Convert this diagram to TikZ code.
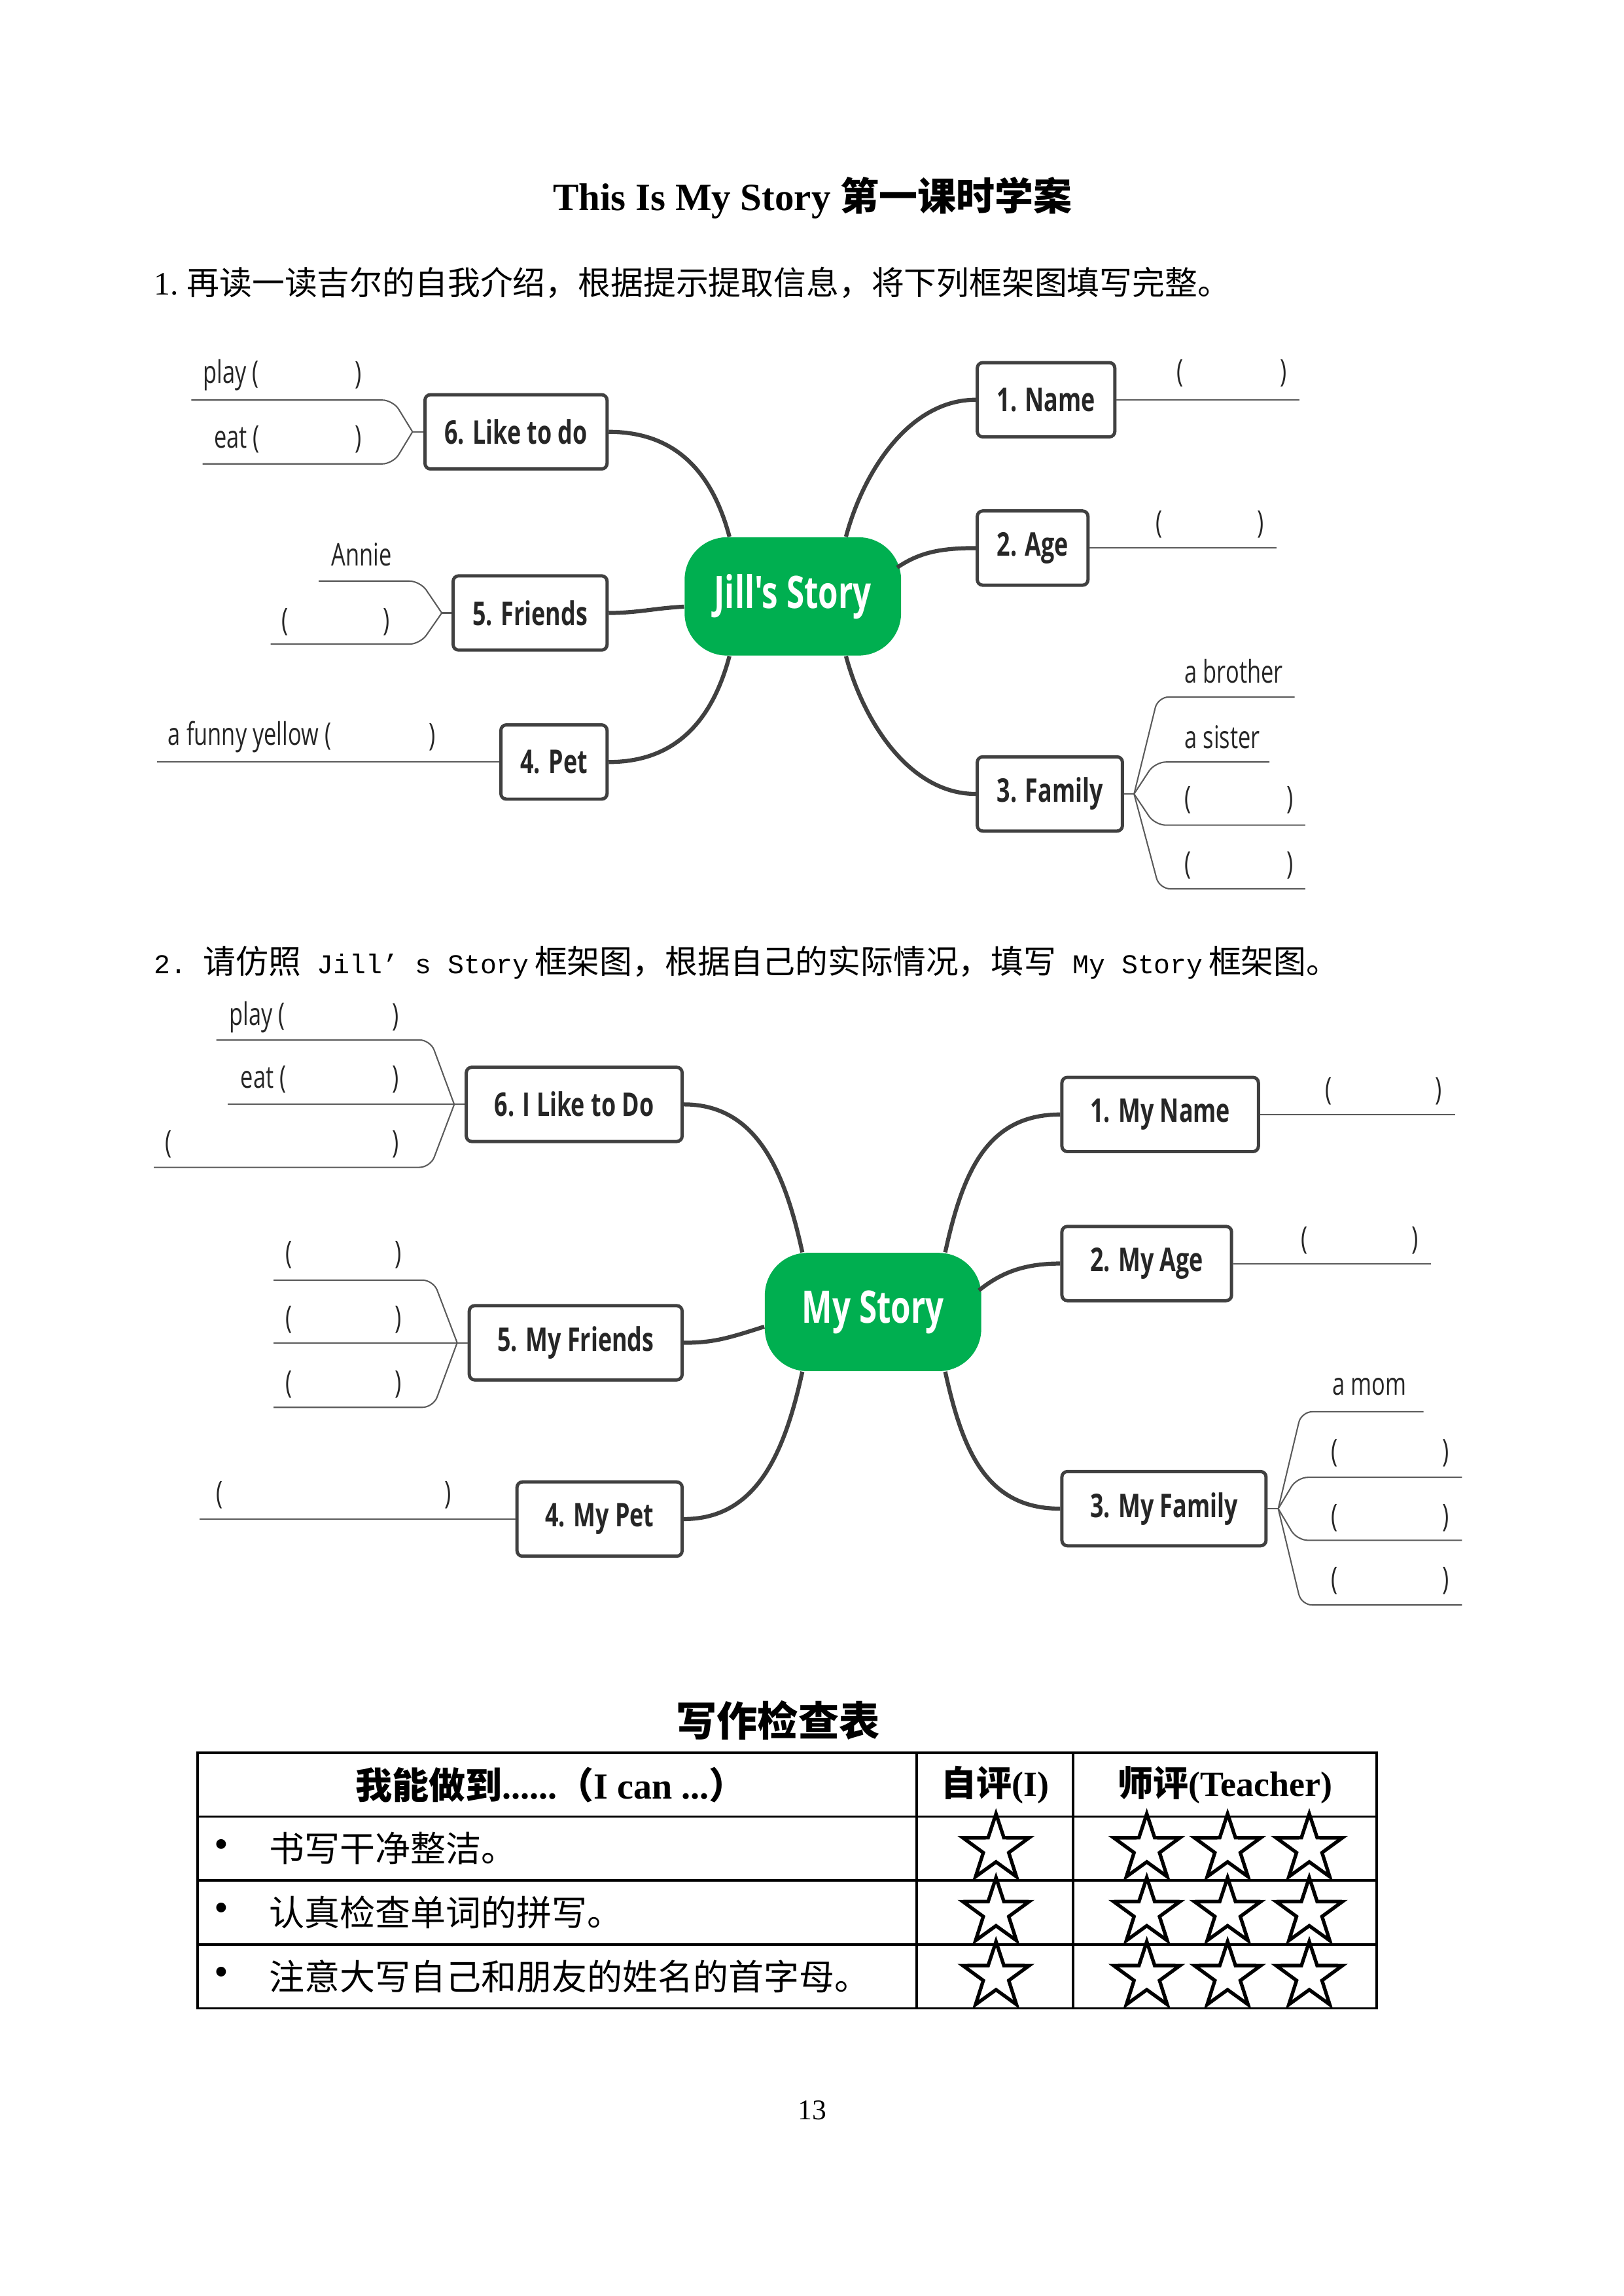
\documentclass[tikz,border=0pt]{standalone}
\usepackage{fontspec}
\usepackage{xcolor}
\usepackage{tikz}
\usetikzlibrary{calc, shapes.geometric}
\setmainfont{Liberation Serif}
\newfontfamily\cjk{Noto Sans CJK SC}
\newfontfamily\mapfont[FakeStretch=0.72]{Open Sans}
\newfontfamily\codefont{Liberation Mono}
\definecolor{mapgreen}{HTML}{00AF50}
\definecolor{boxline}{HTML}{404040}
\definecolor{leafline}{HTML}{5A5A5A}
\definecolor{inktext}{HTML}{262626}
\newcommand{\mono}[1]{{\codefont\fontsize{10}{14}\selectfont #1}}
% a pair of brackets with room to write in
\newcommand{\blank}[4]{\node[leaf] (#1l) at (#2,#4) {(}; \node[leaf] (#1r) at (#3,#4) {)};}

\begin{document}
\begin{tikzpicture}[x=0.18936mm, y=-0.18936mm,
    hub/.style={rectangle, rounded corners=0.55cm, fill=mapgreen, text=white,
        font=\mapfont\bfseries\fontsize{16.5}{18}\selectfont,
        minimum width=2.8cm, minimum height=1.53cm},
    topic/.style={draw=boxline, line width=1.2pt, rounded corners=2pt, fill=white,
        text=inktext, font=\mapfont\bfseries\fontsize{12}{14}\selectfont,
        minimum height=0.96cm, inner xsep=7.2pt},
    mytopic/.style={topic, inner xsep=10.4pt},
    trunk/.style={draw=boxline, line width=1.5pt},
    twig/.style={draw=leafline, line width=0.5pt, rounded corners=4pt},
    leaf/.style={text=inktext, inner sep=0pt, font=\mapfont\fontsize{11.5}{13}\selectfont},
    rule/.style={draw=black, line width=0.9pt},
    hollowstar/.style={star, star points=5, star point ratio=2.6, draw=black,
        line width=1.3pt, minimum size=0.9cm, inner sep=0pt}]
    \useasboundingbox (0,0) rectangle (1109,1568);
    % Heading and tasks
    \node (title) at (555,135) {\fontsize{14.2}{18}\selectfont\bfseries This Is My Story {\cjk 第一课时学案}};
    \node[anchor=west, inner sep=0pt] (task1) at (105,193)
        {\fontsize{12}{14}\selectfont 1.\hspace{3pt}{\cjk 再读一读吉尔的自我介绍，根据提示提取信息，将下列框架图填写完整。}};
    \node[anchor=west, inner sep=0pt] (task2) at (105,657.5)
        {\fontsize{12}{14}\selectfont\mono{2.~}{\cjk 请仿照}\mono{~Jill’~s~Story}\hspace{2pt}{\cjk 框架图，根据自己的实际情况，填写}\mono{~My~Story}\hspace{2pt}{\cjk 框架图。}};

    % Jill's Story
    \node[hub] (jill) at (541.6,407.3) {Jill's Story};
    \node[topic, anchor=east] (jlike) at (415.8,294.9) {6. Like to do};
    \node[topic, anchor=east] (jfriend) at (415.8,418.6) {5. Friends};
    \node[topic, anchor=east] (jpet) at (415.8,520.4) {4. Pet};
    \node[topic, anchor=west] (jname) at (666.5,273.0) {1. Name};
    \node[topic, anchor=west] (jage) at (666.5,374.3) {2. Age};
    \node[topic, anchor=west] (jfamily) at (666.5,542.2) {3. Family};
    \draw[trunk] ($(jill.north west)+(31,0)$) .. controls +(-12,-45) and +(45,0) .. (jlike.east);
    \draw[trunk] ($(jill.west)+(0,7)$) .. controls +(-20,1) and +(20,0) .. (jfriend.east);
    \draw[trunk] ($(jill.south west)+(31,0)$) .. controls +(-12,45) and +(45,0) .. (jpet.east);
    \draw[trunk] ($(jill.north east)+(-38,0)$) .. controls +(12,-45) and +(-45,0) .. (jname.west);
    \draw[trunk] ($(jill.north east)+(-3,21)$) .. controls +(15,-10) and +(-25,0) .. (jage.west);
    \draw[trunk] ($(jill.south east)+(-38,0)$) .. controls +(12,45) and +(-45,0) .. (jfamily.west);
    % leaves
    \draw[twig] (jlike.west) -- (281.8,294.9) coordinate (jlikefan);
    \draw[twig] (jlikefan) -- (268.5,273.2) -- (130.7,273.2) coordinate (jplayend);
    \draw[twig] (jlikefan) -- (268.5,316.8) -- (138.4,316.8) coordinate (jeatend);
    \draw[twig] (jfriend.west) -- (301.8,418.6) coordinate (jfriendfan);
    \draw[twig] (jfriendfan) -- (287,396.8) -- (217.7,396.8) coordinate (jannieend);
    \draw[twig] (jfriendfan) -- (287,439.9) -- (184.9,439.9) coordinate (jfriendend);
    \draw[twig] (jpet.west) -- (107.1,520.4) coordinate (jpetend);
    \draw[twig] (jname.east) -- (887.6,273.0) coordinate (jnameend);
    \draw[twig] (jage.east) -- (871.9,374.3) coordinate (jageend);
    \draw[twig] (jfamily.east) -- (774.7,542.2) coordinate (jfamfan);
    \draw[twig] (jfamfan) -- (791,476) -- (884.4,476) coordinate (jbrotherend);
    \draw[twig] (jfamfan) -- (789,520.4) -- (867.2,520.4) coordinate (jsisterend);
    \draw[twig] (jfamfan) -- (789,563.5) -- (891.6,563.5) coordinate (jfamAend);
    \draw[twig] (jfamfan) -- (792,607) -- (891.6,607) coordinate (jfamBend);
    \node[leaf, anchor=west] (jplay) at (138.4,256.2) {play (};
    \node[leaf] (jplayr) at (244.7,256.2) {)};
    \node[leaf, anchor=west] (jeat) at (145.8,299.8) {eat (};
    \node[leaf] (jeatr) at (244.7,299.8) {)};
    \node[leaf, anchor=west] (jannie) at (226.2,378.6) {Annie};
    \blank{jfriendbl}{194.9}{263.9}{424.7}
    \node[leaf, anchor=west] (jyellow) at (114.5,503.4) {a funny yellow (};
    \node[leaf] (jyellowr) at (295.2,503.4) {)};
    \blank{jnamebl}{806}{876.6}{255}
    \blank{jagebl}{792}{861}{358}
    \node[leaf, anchor=west] (jbrother) at (809,458.6) {a brother};
    \node[leaf, anchor=west] (jsister) at (809,503.4) {a sister};
    \blank{jfamA}{811.3}{881.3}{546.5}
    \blank{jfamB}{811.3}{881.3}{590.8}

    % My Story
    \node[hub] (mys) at (596.4,896) {My Story};
    \node[mytopic, anchor=east] (mlike) at (467.1,754.2) {6. I Like to Do};
    \node[mytopic, anchor=east] (mfriend) at (467.1,917) {5. My Friends};
    \node[mytopic, anchor=east] (mpet) at (467.1,1037.4) {4. My Pet};
    \node[mytopic, anchor=west] (mname) at (724.3,761.1) {1. My Name};
    \node[mytopic, anchor=west] (mage) at (724.3,862.9) {2. My Age};
    \node[mytopic, anchor=west] (mfamily) at (724.3,1030.3) {3. My Family};
    \draw[trunk] ($(mys.north west)+(26,0)$) .. controls +(-12,-55) and +(50,0) .. (mlike.east);
    \draw[trunk] ($(mys.west)+(0,10)$) .. controls +(-25,8) and +(20,0) .. (mfriend.east);
    \draw[trunk] ($(mys.south west)+(26,0)$) .. controls +(-12,55) and +(50,0) .. (mpet.east);
    \draw[trunk] ($(mys.north east)+(-25,0)$) .. controls +(12,-55) and +(-50,0) .. (mname.west);
    \draw[trunk] ($(mys.north east)+(-2,26)$) .. controls +(15,-12) and +(-25,0) .. (mage.west);
    \draw[trunk] ($(mys.south east)+(-25,0)$) .. controls +(12,55) and +(-50,0) .. (mfamily.west);
    % leaves
    \draw[twig] (mlike.west) -- (310.3,754.2) coordinate (mlikefan);
    \draw[twig] (mlikefan) -- (294,710.2) -- (147.8,710.2) coordinate (mplayend);
    \draw[twig] (mlikefan) -- (155.5,754.2) coordinate (meatend);
    \draw[twig] (mlikefan) -- (294,797.2) -- (105.1,797.2) coordinate (mdoend);
    \draw[twig] (mfriend.west) -- (312.3,917) coordinate (mfriendfan);
    \draw[twig] (mfriendfan) -- (296,874.2) -- (186.9,874.2) coordinate (mfrAend);
    \draw[twig] (mfriendfan) -- (186.9,917) coordinate (mfrBend);
    \draw[twig] (mfriendfan) -- (296,961.1) -- (186.9,961.1) coordinate (mfrCend);
    \draw[twig] (mpet.west) -- (136.4,1037.4) coordinate (mpetend);
    \draw[twig] (mname.east) -- (993.9,761.1) coordinate (mnameend);
    \draw[twig] (mage.east) -- (977.5,862.9) coordinate (mageend);
    \draw[twig] (mfamily.east) -- (873.2,1030.3) coordinate (mfamfan);
    \draw[twig] (mfamfan) -- (889,964.1) -- (972.4,964.1) coordinate (mmomend);
    \draw[twig] (mfamfan) -- (886,1008.9) -- (998.7,1008.9) coordinate (mfamAend);
    \draw[twig] (mfamfan) -- (886,1051.9) -- (998.7,1051.9) coordinate (mfamBend);
    \draw[twig] (mfamfan) -- (889,1096.1) -- (998.7,1096.1) coordinate (mfamCend);
    \node[leaf, anchor=west] (mplay) at (156.4,694.6) {play (};
    \node[leaf] (mplayr) at (270.4,694.6) {)};
    \node[leaf, anchor=west] (meat) at (164.1,737.3) {eat (};
    \node[leaf] (meatr) at (270.4,737.3) {)};
    \blank{mdo}{115}{270.4}{781.5}
    \blank{mfrA}{197.2}{271.8}{857}
    \blank{mfrB}{197.2}{271.8}{901.2}
    \blank{mfrC}{197.2}{271.8}{945.4}
    \blank{mpetbl}{150.1}{306.1}{1021}
    \blank{mnamebl}{907.4}{982.6}{745.2}
    \blank{magebl}{891.3}{966.6}{847.2}
    \node[leaf, anchor=west] (mmom) at (909.8,947) {a mom};
    \blank{mfamA}{911.8}{987.8}{992.6}
    \blank{mfamB}{911.8}{987.8}{1036.8}
    \blank{mfamC}{911.8}{987.8}{1079.6}

    % Checklist
    \node (checktitle) at (531.5,1175) {\cjk\bfseries\fontsize{15}{18}\selectfont 写作检查表};
    \draw[rule] (135,1197.1) rectangle (940.5,1371.5);
    \foreach \y in {1240.6,1284.2,1327.9}
        \draw[rule] (135,\y) -- (940.5,\y);
    \foreach \x in {626.3,733}
        \draw[rule] (\x,1197.1) -- (\x,1371.5);
    \node (headcan) at (376,1218.9) {\fontsize{13.5}{15}\selectfont\bfseries{\cjk 我能做到}......{\cjk （}I can ...{\cjk ）}};
    \node (headself) at (679.7,1218.9) {\fontsize{13}{15}\selectfont\bfseries{\cjk 自评}(I)};
    \node (headtch) at (836.8,1218.9) {\fontsize{13}{15}\selectfont\bfseries{\cjk 师评}(Teacher)};
    \foreach \y/\txt [count=\r] in {1262.4/书写干净整洁。, 1306/认真检查单词的拼写。, 1349.7/注意大写自己和朋友的姓名的首字母。} {
        \node (dot\r) at (151.2,\y) {\fontsize{15}{16}\selectfont •};
        \node[anchor=west, inner sep=0pt] (row\r) at (183.7,\y) {\cjk\fontsize{13}{15}\selectfont \txt};
        \node[hollowstar] (self\r) at (680.4,\y) {};
        \foreach \x [count=\c] in {783.4,838.6,894.4}
            \node[hollowstar] (tch\r\c) at (\x,\y) {};
    }
    \node (pageno) at (555,1441) {\fontsize{10.5}{12}\selectfont 13};
\end{tikzpicture}
\end{document}
